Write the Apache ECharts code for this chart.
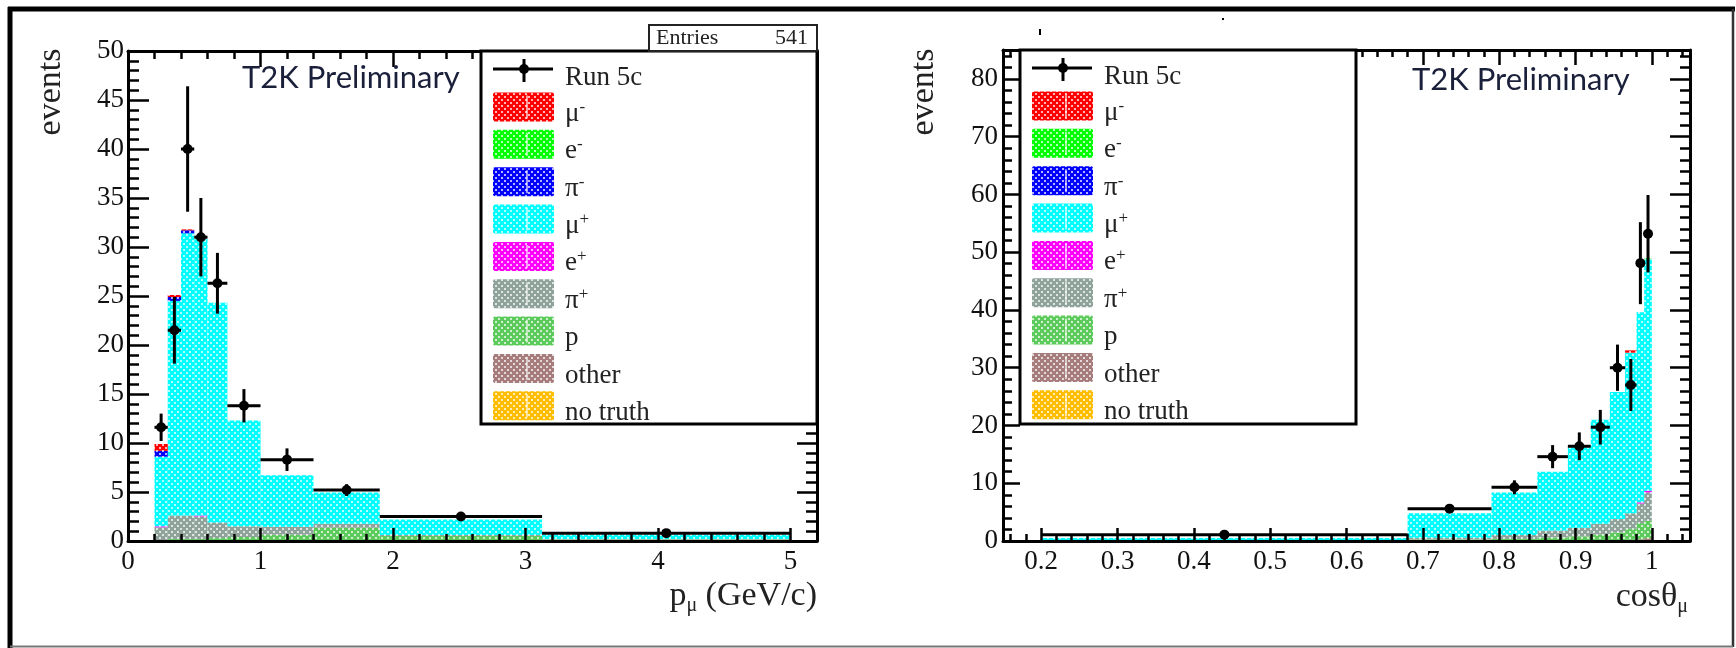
<!DOCTYPE html>
<html>
<head>
<meta charset="utf-8">
<script src="https://cdn.jsdelivr.net/npm/echarts@6/dist/echarts.min.js"></script>
<style>
  html, body { margin: 0; padding: 0; background: #fff; }
  #chart { width: 1736px; height: 648px; }
</style>
</head>
<body>
<div id="chart"></div>
<script>
// ---------- species (legend order = top of the stack first) ----------
const speciesNames  = ['μ-', 'e-', 'π-', 'μ+', 'e+', 'π+', 'p', 'other', 'no truth'];
const speciesColors = ['#ff0000', '#00ff00', '#0000ff', '#00ffff', '#ff00ff', '#8fa39b', '#5ccb5c', '#a67c7c', '#ffbd00'];
const dataName = 'Run 5c';
const entriesLabel = 'Entries';
const entriesValue = '541';

// ---------- muon momentum (GeV/c) ----------
const pEdges    = [0.2, 0.3, 0.4, 0.5, 0.6, 0.75, 1.0, 1.4, 1.9, 3.125, 5.0];
const pMuMinus  = [0.7, 0.2, 0.1, 0, 0, 0, 0, 0, 0, 0];
const pEMinus   = [0, 0, 0, 0, 0, 0, 0, 0, 0, 0];
const pPiMinus  = [0.6, 0.4, 0.3, 0, 0, 0, 0, 0, 0, 0];
const pMuPlus   = [7.1, 21.9, 28.8, 28.2, 22.4, 10.8, 5.25, 3.2, 1.58, 0.44];
const pEPlus    = [0.1, 0, 0, 0.1, 0, 0, 0, 0, 0, 0];
const pPiPlus   = [1.4, 2.4, 2.4, 2.3, 1.6, 1.1, 0.8, 0.4, 0.1, 0.05];
const pProton   = [0, 0.1, 0.1, 0.1, 0.2, 0.3, 0.6, 1.3, 0.5, 0.15];
const pOther    = [0, 0.1, 0.1, 0.1, 0.1, 0.1, 0.05, 0.05, 0.02, 0.01];
const pNoTruth  = [0, 0, 0, 0, 0, 0, 0, 0, 0, 0];
const pData     = [11.6, 21.5, 40.0, 31.0, 26.3, 13.8, 8.3, 5.2, 2.5, 0.8];
const pDataErr  = [1.4, 3.4, 6.4, 4.0, 3.1, 1.7, 1.15, 0.6, 0.3, 0.2];

// ---------- muon angle (cos theta) ----------
const cEdges    = [0.2, 0.68, 0.79, 0.85, 0.89, 0.92, 0.945, 0.965, 0.98, 0.99, 1.0];
const cMuMinus  = [0, 0, 0, 0, 0, 0, 0, 0.4, 0, 0];
const cEMinus   = [0, 0, 0, 0, 0, 0, 0, 0, 0, 0.2];
const cPiMinus  = [0, 0, 0, 0, 0, 0, 0, 0, 0, 0];
const cMuPlus   = [0.48, 4.25, 7.35, 10.2, 13.9, 18.0, 22.0, 27.8, 32.9, 40.1];
const cEPlus    = [0, 0, 0, 0, 0, 0, 0, 0, 0.2, 0.3];
const cPiPlus   = [0.02, 0.3, 0.7, 1.2, 1.5, 1.9, 2.3, 2.7, 3.4, 4.9];
const cProton   = [0, 0.2, 0.3, 0.5, 0.7, 1.0, 1.4, 1.9, 2.8, 3.0];
const cOther    = [0, 0.05, 0.05, 0.1, 0.1, 0.1, 0.1, 0.2, 0.3, 0.5];
const cNoTruth  = [0, 0, 0, 0, 0, 0, 0, 0, 0, 0];
const cData     = [1.1, 5.6, 9.3, 14.6, 16.4, 19.7, 30.0, 27.0, 48.1, 53.2];
const cDataErr  = [0.3, 0.5, 1.2, 2.0, 2.4, 3.0, 4.0, 4.5, 7.1, 6.7];

// ---------- axis ticks ----------
const pXMajor = 1, pXMinor = 0.2, pYMajor = 5, pYMinor = 1;
const cXMajor = 0.1, cXMinor = 0.02, cYMajor = 10, cYMinor = 2;

const SERIF = 'Liberation Serif';
const SANS = 'Lato';

// Dotted fill pattern (white dots on the species colour)
function dotted(color) {
  const c = document.createElement('canvas');
  c.width = 6; c.height = 6;
  const g = c.getContext('2d');
  g.fillStyle = color; g.fillRect(0, 0, 6, 6);
  g.fillStyle = 'rgba(255,255,255,0.7)';
  g.fillRect(0, 0, 2, 2);
  g.fillRect(3, 3, 2, 2);
  return { image: c, repeat: 'repeat' };
}

// Stack layers bottom->top into rows [x0, x1, y0, y1]
function stackRows(edges, layers) {
  const base = edges.slice(1).map(() => 0);
  return layers.map(vals => {
    const rows = [];
    vals.forEach((v, i) => {
      const y0 = base[i];
      base[i] += v;
      if (v > 0) rows.push([edges[i], edges[i + 1], y0, base[i]]);
    });
    return rows;
  });
}

function binRenderer(fill) {
  return function (params, api) {
    const a = api.coord([api.value(0), api.value(3)]);
    const b = api.coord([api.value(1), api.value(2)]);
    return {
      type: 'rect',
      shape: { x: a[0], y: a[1], width: b[0] - a[0], height: b[1] - a[1] },
      style: { fill: fill }
    };
  };
}

function pointRenderer(params, api) {
  const x = api.value(0), y = api.value(1), xl = api.value(2), xh = api.value(3), e = api.value(4);
  const c = api.coord([x, y]);
  const l = api.coord([xl, y]);
  const r = api.coord([xh, y]);
  const t = api.coord([x, y + e]);
  const b = api.coord([x, Math.max(0, y - e)]);
  const ls = { stroke: '#000', lineWidth: 3 };
  return {
    type: 'group',
    children: [
      { type: 'line', shape: { x1: l[0], y1: c[1], x2: r[0], y2: c[1] }, style: ls },
      { type: 'line', shape: { x1: c[0], y1: t[1], x2: c[0], y2: b[1] }, style: ls },
      { type: 'circle', shape: { cx: c[0], cy: c[1], r: 5 }, style: { fill: '#000' } }
    ]
  };
}

function histSeries(edges, legendOrderLayers, xIdx, yIdx) {
  // the stack is drawn from the last legend entry (bottom) to the first (top)
  const bottomUp = legendOrderLayers.slice().reverse();
  const colors = speciesColors.slice().reverse();
  const names = speciesNames.slice().reverse();
  const rows = stackRows(edges, bottomUp);
  return rows.map((r, k) => ({
    type: 'custom',
    name: names[k],
    xAxisIndex: xIdx, yAxisIndex: yIdx,
    renderItem: binRenderer(dotted(colors[k])),
    data: r,
    encode: { x: [0, 1], y: [2, 3] },
    clip: true, silent: true, z: 2
  }));
}

function dataSeries(edges, vals, errs, xIdx, yIdx) {
  const rows = vals.map((v, i) => [(edges[i] + edges[i + 1]) / 2, v, edges[i], edges[i + 1], errs[i]]);
  return {
    type: 'custom', name: dataName,
    xAxisIndex: xIdx, yAxisIndex: yIdx,
    renderItem: pointRenderer,
    data: rows,
    encode: { x: 0, y: 1 },
    clip: false, silent: true, z: 4
  };
}

// One axis (ticks pointing into the frame)
function axis(g, pos, ext, step, tickLen, line, label) {
  const a = {
    gridIndex: g, type: 'value', position: pos, min: ext[0], max: ext[1],
    splitLine: { show: false },
    axisLine: { show: line, onZero: false, lineStyle: { color: '#000', width: 3 } },
    axisTick: { show: true, inside: true, length: tickLen, lineStyle: { color: '#000', width: 2.5 } },
    axisLabel: label ? label : { show: false },
    axisPointer: { show: false },
    silent: true, z: 5
  };
  const k = ext[0] / step;
  if (Math.abs(k - Math.round(k)) < 1e-9) {
    a.interval = step;
  } else {
    a.minInterval = step; a.maxInterval = step;
    a.splitNumber = Math.round((ext[1] - ext[0]) / step);
  }
  return a;
}

function labelStyle(margin, fmt) {
  return { show: true, margin: margin, fontFamily: SERIF, fontSize: 27, color: '#111', formatter: fmt };
}

const pXExt = [0, 5.2], pYExt = [0, 50];
const cXExt = [0.15, 1.05], cYExt = [0, 85];

const xAxes = [
  axis(0, 'bottom', pXExt, pXMajor, 13, true, labelStyle(7, v => Number.isInteger(v) ? String(v) : '')),
  axis(0, 'bottom', pXExt, pXMinor, 7, false),
  axis(0, 'top', pXExt, pXMajor, 16, true),
  axis(0, 'top', pXExt, pXMinor, 8, false),
  axis(1, 'bottom', cXExt, cXMajor, 13, true, labelStyle(7, v => {
    const r = Math.round(v * 10) / 10;
    return Math.abs(v - r) < 1e-6 ? String(+r.toFixed(1)) : '';
  })),
  axis(1, 'bottom', cXExt, cXMinor, 7, false),
  axis(1, 'top', cXExt, cXMajor, 15, true),
  axis(1, 'top', cXExt, cXMinor, 7, false)
];
const yAxes = [
  axis(0, 'left', pYExt, pYMajor, 21, true, labelStyle(4, v => String(v))),
  axis(0, 'left', pYExt, pYMinor, 11, false),
  axis(0, 'right', pYExt, pYMajor, 20, true),
  axis(0, 'right', pYExt, pYMinor, 11, false),
  axis(1, 'left', cYExt, cYMajor, 17, true, labelStyle(5, v => (v % 10 === 0 ? String(v) : ''))),
  axis(1, 'left', cYExt, cYMinor, 9, false),
  axis(1, 'right', cYExt, cYMajor, 20, true),
  axis(1, 'right', cYExt, cYMinor, 10, false)
];

const pLayers = [pMuMinus, pEMinus, pPiMinus, pMuPlus, pEPlus, pPiPlus, pProton, pOther, pNoTruth];
const cLayers = [cMuMinus, cEMinus, cPiMinus, cMuPlus, cEPlus, cPiPlus, cProton, cOther, cNoTruth];

const series = []
  .concat(histSeries(pEdges, pLayers, 0, 0))
  .concat([dataSeries(pEdges, pData, pDataErr, 0, 0)])
  .concat(histSeries(cEdges, cLayers, 4, 4))
  .concat([dataSeries(cEdges, cData, cDataErr, 4, 4)]);

// ---------- legend boxes, titles and frame ----------
function labelRich(name) {
  const last = name.slice(-1);
  const sup = (name.length === 2 && (last === '-' || last === '+'));
  const text = sup ? '{b|' + name[0] + '}{s|' + last + '}' : '{b|' + name + '}';
  return {
    text: text,
    rich: {
      b: { fontFamily: SERIF, fontSize: 27, fill: '#222', lineHeight: 30 },
      s: { fontFamily: SERIF, fontSize: 17, fill: '#222', lineHeight: 17, verticalAlign: 'top' }
    },
    verticalAlign: 'middle', align: 'left'
  };
}

function legendBox(left, top, right, bottom) {
  const els = [];
  els.push({ type: 'rect', z: 100, shape: { x: left, y: top, width: right - left, height: bottom - top },
             style: { fill: '#fff', stroke: '#000', lineWidth: 3 } });
  const sx = left + 12, tx = left + 84, sw = 61, sh = 29;
  const my = top + 18;
  els.push({ type: 'line', z: 101, shape: { x1: sx, y1: my, x2: sx + 60, y2: my }, style: { stroke: '#000', lineWidth: 3 } });
  els.push({ type: 'line', z: 101, shape: { x1: sx + 31, y1: my - 10, x2: sx + 31, y2: my + 13 }, style: { stroke: '#000', lineWidth: 3 } });
  els.push({ type: 'circle', z: 101, shape: { cx: sx + 31, cy: my, r: 5 }, style: { fill: '#000' } });
  els.push({ type: 'text', z: 101, x: tx, y: my + 9, style: labelRich(dataName) });
  speciesNames.forEach((n, i) => {
    const cy = top + 56 + i * 37.35;
    els.push({ type: 'rect', z: 101, shape: { x: sx, y: cy - sh / 2, width: sw, height: sh, r: 2 },
               style: { fill: dotted(speciesColors[i]) } });
    els.push({ type: 'line', z: 102, shape: { x1: sx + 34, y1: cy - sh / 2 + 3, x2: sx + 34, y2: cy + sh / 2 - 3 },
               style: { stroke: 'rgba(255,255,255,0.8)', lineWidth: 1.5 } });
    els.push({ type: 'text', z: 101, x: tx, y: cy + 7, style: labelRich(n) });
  });
  return els;
}

const graphics = []
  .concat(legendBox(481, 51, 817, 424))
  .concat(legendBox(1020, 50, 1356, 424))
  .concat([
    // statistics box
    { type: 'rect', z: 100, shape: { x: 649, y: 25, width: 168, height: 26 }, style: { fill: '#fff', stroke: '#222', lineWidth: 2 } },
    { type: 'text', z: 101, x: 656, y: 38, style: { text: entriesLabel, fontFamily: SERIF, fontSize: 22, fill: '#222', align: 'left', verticalAlign: 'middle' } },
    { type: 'text', z: 101, x: 808, y: 38, style: { text: entriesValue, fontFamily: SERIF, fontSize: 22, fill: '#222', align: 'right', verticalAlign: 'middle' } },
    // plot labels
    { type: 'text', z: 101, x: 242, y: 78, style: { text: 'T2K Preliminary', fontFamily: SANS, fontSize: 31, fill: '#1a1f3a', align: 'left', verticalAlign: 'middle' } },
    { type: 'text', z: 101, x: 1412, y: 80, style: { text: 'T2K Preliminary', fontFamily: SANS, fontSize: 31, fill: '#1a1f3a', align: 'left', verticalAlign: 'middle' } },
    // axis titles
    { type: 'text', z: 101, x: 51, y: 92, rotation: Math.PI / 2, style: { text: 'events', fontFamily: SERIF, fontSize: 34, fill: '#222', align: 'center', verticalAlign: 'middle' } },
    { type: 'text', z: 101, x: 924, y: 92, rotation: Math.PI / 2, style: { text: 'events', fontFamily: SERIF, fontSize: 34, fill: '#222', align: 'center', verticalAlign: 'middle' } },
    { type: 'text', z: 101, x: 817, y: 596, style: {
        text: '{t|p}{s|μ}{t| (GeV/c)}', align: 'right', verticalAlign: 'middle',
        rich: { t: { fontFamily: SERIF, fontSize: 34, fill: '#222', lineHeight: 40 },
                s: { fontFamily: SERIF, fontSize: 20, fill: '#222', lineHeight: 20, verticalAlign: 'bottom' } } } },
    { type: 'text', z: 101, x: 1688, y: 597, style: {
        text: '{t|cosθ}{s|μ}', align: 'right', verticalAlign: 'middle',
        rich: { t: { fontFamily: SERIF, fontSize: 34, fill: '#222', lineHeight: 40 },
                s: { fontFamily: SERIF, fontSize: 20, fill: '#222', lineHeight: 20, verticalAlign: 'bottom' } } } },
    // small marks above the right frame
    { type: 'line', z: 101, shape: { x1: 1040, y1: 29, x2: 1040, y2: 35 }, style: { stroke: '#000', lineWidth: 2 } },
    { type: 'rect', z: 101, shape: { x: 1222, y: 18, width: 2, height: 2 }, style: { fill: '#000' } },
    // outer frame
    { type: 'line', z: 110, shape: { x1: 8, y1: 9, x2: 1735, y2: 9 }, style: { stroke: '#000', lineWidth: 5 } },
    { type: 'line', z: 110, shape: { x1: 10, y1: 7, x2: 10, y2: 648 }, style: { stroke: '#000', lineWidth: 5 } },
    { type: 'line', z: 110, shape: { x1: 1733, y1: 9, x2: 1733, y2: 647 }, style: { stroke: '#333', lineWidth: 2.5 } },
    { type: 'line', z: 110, shape: { x1: 10, y1: 646.5, x2: 1733, y2: 646.5 }, style: { stroke: '#777', lineWidth: 2 } }
  ]);

const chart = echarts.init(document.getElementById('chart'), null, { renderer: 'canvas' });
chart.setOption({
  animation: false,
  backgroundColor: '#fff',
  grid: [
    { left: 128, top: 51, width: 689, height: 490, outerBoundsMode: 'none', containLabel: false },
    { left: 1003, top: 50, width: 687, height: 491, outerBoundsMode: 'none', containLabel: false }
  ],
  xAxis: xAxes,
  yAxis: yAxes,
  series: series,
  graphic: { elements: graphics }
});
</script>
</body>
</html>
